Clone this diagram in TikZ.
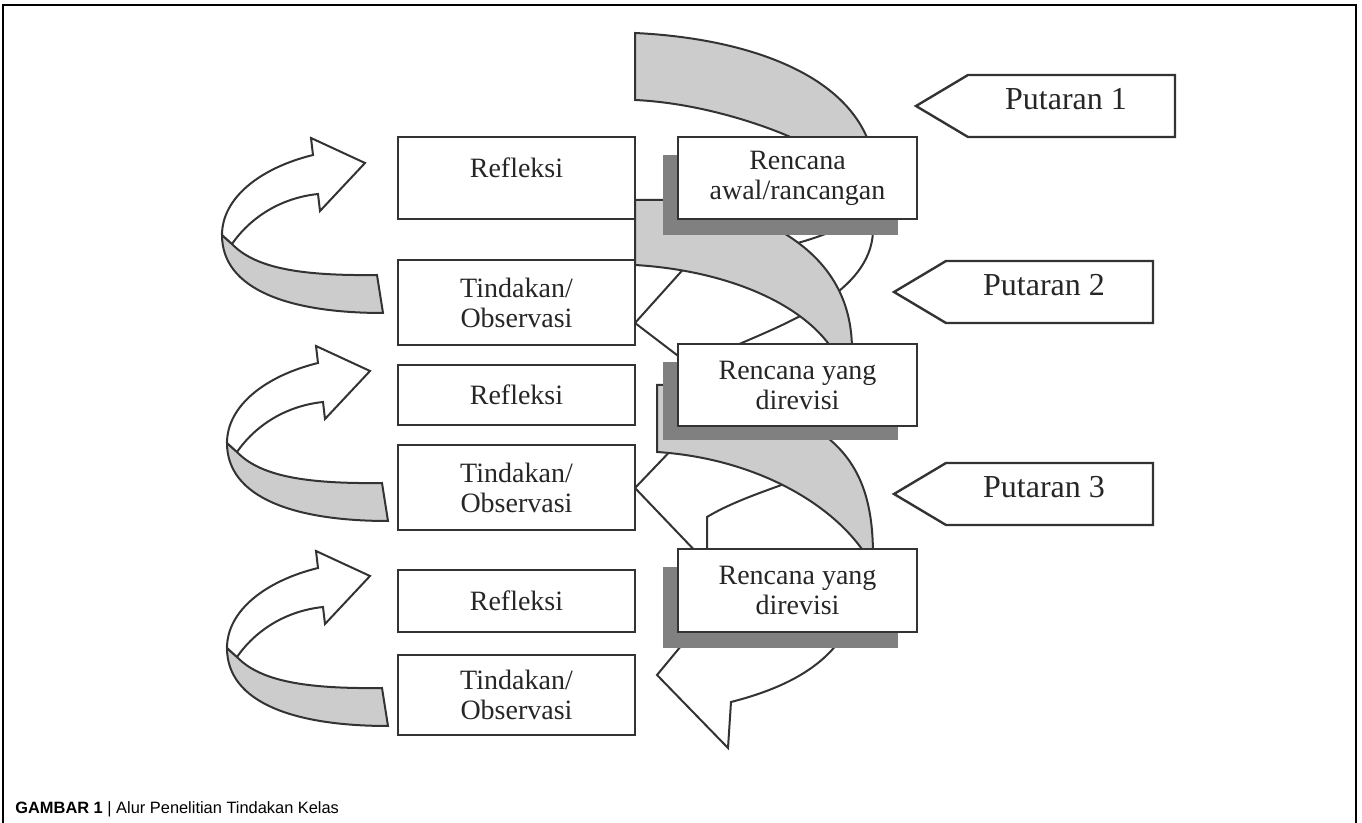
\documentclass[tikz,border=0pt]{standalone}
\usepackage{fontspec}
\setmainfont{Liberation Serif}
\newfontfamily\captionfont{Liberation Sans}
\usepackage{tikz}
\definecolor{bandgray}{gray}{0.8}
\definecolor{shadowgray}{gray}{0.5}
\definecolor{inkgray}{gray}{0.2}
\newcommand{\boxfont}{\fontsize{14}{15}\selectfont}
\newcommand{\tagfont}{\fontsize{16}{18}\selectfont}

\begin{document}
\begin{tikzpicture}[x=0.5pt,y=-0.5pt,
  plan/.style={draw=inkgray, line width=1.3pt, fill=white, inner sep=2pt,
    align=center, font=\boxfont, text=black!85},
  shade/.style={fill=shadowgray, draw=none},
  band/.style={fill=bandgray, draw=inkgray, line width=1pt},
  ribbon/.style={draw=inkgray, line width=1pt},
  tag/.style={draw=inkgray, line width=1.2pt, fill=white}]
  \useasboundingbox (0,0) rectangle (1362,823);

  % frame
  \draw[line width=0.8pt] (3,840) -- (3,5) -- (1356,5) -- (1356,840);

  % front of the spiral (thin edges)
  \draw[ribbon] (635,323) -- (688,264) .. controls (740,255) and (790,250) .. (840,228);
  \draw[ribbon] (730,348) .. controls (790,322) and (870,292) .. (873,232);
  \draw[ribbon] (635,323) -- (690,365);
  \draw[ribbon] (635,488) -- (700,420);
  \draw[ribbon] (635,488) -- (700,556);
  \draw[ribbon] (707,556) -- (707,517) .. controls (735,500) and (775,488) .. (800,478) -- (830,432);
  % end of the spiral
  \draw[ribbon, fill=white] (686,640) -- (657,675) -- (728,748) -- (731,702)
        .. controls (770,692) and (815,675) .. (840,640);

  % back of the spiral (grey bands)
  \draw[band] (635,33) .. controls (740,38) and (840,70) .. (868,140) -- (797,140)
        .. controls (765,125) and (700,103) .. (635,100) -- cycle;
  \draw[band] (635,200) -- (775,200) -- (775,228) .. controls (830,258) and (852,300) .. (852,350)
        -- (833,350) .. controls (800,300) and (720,270) .. (635,265) -- cycle;
  \draw[band] (657,385) -- (820,385) -- (820,432) .. controls (860,460) and (873,500) .. (873,555)
        -- (866,555) .. controls (830,500) and (750,458) .. (657,452) -- cycle;

  % shadows
  \foreach \t/\b in {155/235, 362/440, 567/648}
    \fill[shade] (663,\t) rectangle (898,\b);

  % rencana
  \node[plan, minimum width=119.5pt, minimum height=41pt] (renc1) at (797.5,178) {Rencana\\awal/rancangan};
  \node[plan, minimum width=119.5pt, minimum height=41pt] (renc2) at (797.5,385) {Rencana yang\\direvisi};
  \node[plan, minimum width=119.5pt, minimum height=41.5pt] (renc3) at (797.5,590.5) {Rencana yang\\direvisi};

  % refleksi and tindakan
  \node[plan, minimum width=118.5pt, minimum height=41pt] (refl1) at (516.5,178) {\raisebox{5pt}[\height][\depth]{Refleksi}};
  \node[plan, minimum width=118.5pt, minimum height=42.5pt] (tind1) at (516.5,302.5) {Tindakan/\\Observasi};
  \node[plan, minimum width=118.5pt, minimum height=30pt] (refl2) at (516.5,395) {Refleksi};
  \node[plan, minimum width=118.5pt, minimum height=42.5pt] (tind2) at (516.5,487.5) {Tindakan/\\Observasi};
  \node[plan, minimum width=118.5pt, minimum height=31pt] (refl3) at (516.5,601) {Refleksi};
  \node[plan, minimum width=118.5pt, minimum height=40pt] (tind3) at (516.5,695) {Tindakan/\\Observasi};

  % putaran
  \foreach \n/\tx/\ty in {1/916/106, 2/894/292, 3/894/494} {
    \draw[tag] (\tx,\ty) -- ++(52,-31) -- ++(207,0) -- ++(0,62) -- ++(-207,0) -- cycle;
    \node[font=\tagfont, text=black!85] (put\n) at ({\tx+150},{\ty-7}) {Putaran \n};
  }

  % curled arrows on the left
  \foreach \dx/\dy in {0/0, 5/208, 5/413} {
    \begin{scope}[shift={(\dx,\dy)}]
      \draw[band] (232,244) .. controls (255,268) and (300,276) .. (377,275) -- (383,313)
            .. controls (290,313) and (222,290) .. (222,235) -- cycle;
      \draw[ribbon, fill=white] (313,155) .. controls (260,168) and (222,198) .. (222,235)
            -- (232,244) .. controls (250,218) and (280,198) .. (318,194)
            -- (320,211) -- (365,163) -- (311,138) -- cycle;
    \end{scope}
  }

  % caption
  \node[anchor=base west, inner sep=0pt, font=\captionfont\fontsize{8.2}{10}\selectfont] (caption)
    at (15,813) {\textbf{GAMBAR 1} | Alur Penelitian Tindakan Kelas};
\end{tikzpicture}
\end{document}
